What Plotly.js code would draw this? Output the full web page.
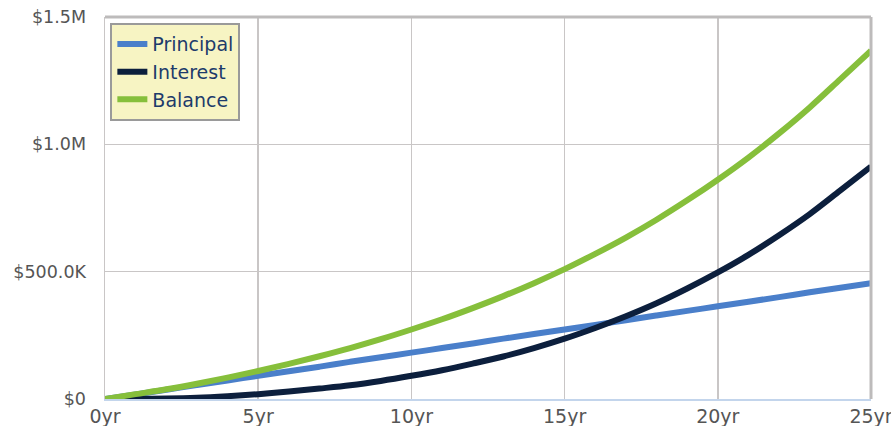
<!DOCTYPE html>
<html>
<head>
<meta charset="utf-8">
<script src="https://cdn.plot.ly/plotly-3.0.1.min.js"></script>
<style>html,body{margin:0;padding:0;background:#fff;}#chart{width:891px;height:426px;}</style>
</head>
<body>
<div id="chart"></div>
<script>
const years = [0,1,2,3,4,5,6,7,8,9,10,11,12,13,14,15,16,17,18,19,20,21,22,23,24,25];
const principal = [0,18000,36000,55000,73000,91000,109000,127000,146000,164000,182000,200000,218000,237000,255000,273000,291000,309000,328000,346000,364000,382000,400000,419000,437000,455000];
const interest = [0,1000,2000,5000,11000,19000,29000,41000,54000,71000,91000,113000,139000,167000,200000,237000,279000,325000,376000,434000,497000,566000,643000,726000,819000,913000];
const balance = [0,19000,38000,60000,84000,110000,138000,168000,200000,235000,273000,313000,357000,404000,455000,510000,570000,634000,704000,780000,861000,948000,1043000,1145000,1256000,1368000];
const seriesNames = ["Principal","Interest","Balance"];
const seriesColors = ["#4a7fca","#0c1f3d","#86bf3b"];
const xTickVals = [0,5,10,15,20,25];
const xTickText = ["0yr","5yr","10yr","15yr","20yr","25yr"];
const yTickVals = [0,500000,1000000,1500000];
const yTickText = ["$0","$500.0K","$1.0M","$1.5M"];

const seriesData = [principal, interest, balance];
const traces = seriesData.map((d,i)=>({
  x: years, y: d, name: seriesNames[i], type: 'scatter', mode: 'lines',
  line: {color: seriesColors[i], width: 6, shape: 'spline'},
  hoverinfo: 'skip'
}));

const layout = {
  width: 891, height: 426,
  margin: {l: 105, r: 20, t: 17, b: 27},
  paper_bgcolor: '#ffffff', plot_bgcolor: '#ffffff',
  font: {family: 'DejaVu Sans, sans-serif', size: 17, color: '#555555'},
  showlegend: true,
  legend: {
    x: 0.007, y: 0.984, xanchor: 'left', yanchor: 'top',
    bgcolor: '#f7f4c3', bordercolor: '#9a9a9a', borderwidth: 2,
    font: {family: 'DejaVu Sans, sans-serif', size: 19, color: '#1d3b6b'},
    tracegroupgap: 0, itemwidth: 30
  },
  xaxis: {
    range: [0, 25], tickvals: xTickVals, ticktext: xTickText,
    showgrid: true, gridcolor: '#c9c6c6', gridwidth: 1.5,
    showline: true, linecolor: '#c3d5ec', linewidth: 1.5,
    zeroline: false, ticks: '', ticklabelstandoff: 0,
    ticklabeloverflow: 'allow',
    tickfont: {size: 19, color: '#555555'}, fixedrange: true
  },
  yaxis: {
    range: [0, 1500000], tickvals: yTickVals, ticktext: yTickText,
    showgrid: true, gridcolor: '#c9c6c6', gridwidth: 1.5,
    showline: true, linecolor: '#c9c6c6', linewidth: 1.5,
    zeroline: false, ticks: '', ticklabelstandoff: 14,
    tickfont: {size: 17.5, color: '#555555'}, fixedrange: true
  },
  shapes: [
    {type:'line', xref:'paper', yref:'paper', x0:0, x1:1, y0:1, y1:1, line:{color:'#bdbbbb', width:3}},
    {type:'line', xref:'paper', yref:'paper', x0:1, x1:1, y0:0, y1:1, line:{color:'#bdbbbb', width:3}}
  ]
};
Plotly.newPlot('chart', traces, layout, {displayModeBar: false, staticPlot: true});
</script>
</body>
</html>
